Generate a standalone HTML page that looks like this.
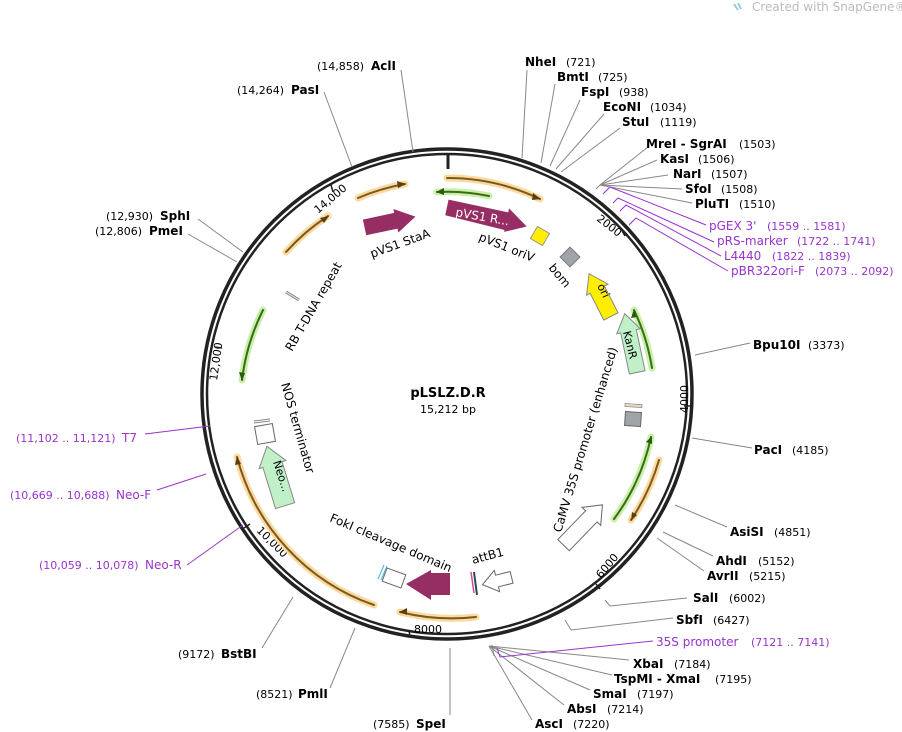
<!DOCTYPE html>
<html><head><meta charset="utf-8"><style>
html,body{margin:0;padding:0;background:#fff}
svg{display:block;font-family:"DejaVu Sans","Liberation Sans",sans-serif}
.b{font-weight:bold;font-size:12px;fill:#000}
.n{font-size:11px;fill:#000}
.p{font-size:12px;fill:#9933cc}
.pn{font-size:11px;fill:#9933cc}
.l{stroke:#888;stroke-width:1;fill:none}
.pl{stroke:#9933cc;stroke-width:1;fill:none}
.f{font-size:12px;fill:#000}
</style></head><body>
<svg width="902" height="732" viewBox="0 0 902 732" xmlns="http://www.w3.org/2000/svg">
<text x="752" y="11" font-size="12" fill="#bbb">Created with SnapGene®</text>
<path d="M734 4 l4 6 M738 3 l3 6" stroke="#9cd" stroke-width="2"/>

<!-- ring -->
<circle cx="447" cy="394" r="245" fill="none" stroke="#222" stroke-width="3.5"/>
<circle cx="447" cy="394" r="240" fill="none" stroke="#222" stroke-width="2.5"/>
<line x1="448" y1="155" x2="448" y2="169" stroke="#222" stroke-width="3"/>

<!-- tick labels -->
<g class="n" font-size="11">
<text transform="translate(318,214) rotate(-40)">14,000</text>
<text transform="translate(596,220) rotate(38)">2000</text>
<text transform="translate(688,413) rotate(-90)">4000</text>
<text transform="translate(601,579) rotate(-50)">6000</text>
<text transform="translate(414,633)">8000</text>
<text transform="translate(256,531) rotate(45)">10,000</text>
<text transform="translate(217,381) rotate(-82)">12,000</text>
</g>
<g stroke="#222" stroke-width="1.5">
<line x1="331" y1="185" x2="333" y2="192"/><line x1="621" y1="229" x2="625" y2="236"/>
<line x1="684" y1="406" x2="691" y2="406"/><line x1="596" y1="584" x2="600" y2="589"/>
<line x1="409" y1="630" x2="410" y2="637"/><line x1="250" y1="524" x2="244" y2="528"/>
<line x1="215" y1="347" x2="222" y2="348"/>
</g>

<!-- primer-like arcs -->
<g fill="none" stroke-linecap="round">
<g stroke="#fbd9a0" stroke-width="7">
<path d="M447 178 A214 214 0 0 1 540 199"/>
<path d="M358 198 A214 214 0 0 1 405 184"/>
<path d="M286 252 A214 214 0 0 1 328 216"/>
<path d="M659 460 A214 214 0 0 1 631 520"/>
<path d="M476 617 A214 214 0 0 1 400 612"/>
<path d="M374 605 A214 214 0 0 1 237 457"/>
</g>
<g stroke="#c8f0a8" stroke-width="7">
<path d="M489 196 A200 200 0 0 0 437 192"/>
<path d="M263 310 A214 214 0 0 0 242 380"/>
<path d="M652 368 A214 214 0 0 0 634 310"/>
<path d="M614 519 A214 214 0 0 0 651 437"/>
</g>
<g stroke="#7a5a1a" stroke-width="2">
<path d="M447 178 A214 214 0 0 1 540 199"/>
<path d="M358 198 A214 214 0 0 1 405 184"/>
<path d="M286 252 A214 214 0 0 1 328 216"/>
<path d="M659 460 A214 214 0 0 1 631 520"/>
<path d="M476 617 A214 214 0 0 1 400 612"/>
<path d="M374 605 A214 214 0 0 1 237 457"/>
</g>
<g stroke="#3a6a1a" stroke-width="2">
<path d="M489 196 A200 200 0 0 0 437 192"/>
<path d="M263 310 A214 214 0 0 0 242 380"/>
<path d="M652 368 A214 214 0 0 0 634 310"/>
<path d="M614 519 A214 214 0 0 0 651 437"/>
</g>
</g>
<g fill="#5a4010">
<path d="M541 199 l-8 -6 l-1 7z"/><path d="M406 184 l-9 -3 l1 7z"/><path d="M329 216 l-9 2 l4 5z"/>
<path d="M631 521 l1 -9 l5 3z"/><path d="M399 612 l8 -4 l0 7z"/><path d="M237 456 l-2 9 l6 -1z"/>
</g>
<g fill="#2a5a10">
<path d="M436 192 l8 -4 l0 7z"/><path d="M242 381 l-3 -9 l6 1z"/><path d="M634 309 l-3 9 l6 -1z"/><path d="M652 436 l-6 6 l6 2z"/>
</g>

<!-- features -->
<polygon transform="translate(390,222) rotate(-12)" points="-26,-8 6,-8 6,-12 26,0 6,12 6,8 -26,8" fill="#962d63"/>
<polygon transform="translate(487,216) rotate(12)" points="-41,-8 20,-8 20,-12 41,2 20,12 20,10 -41,8" fill="#962d63"/>
<text transform="translate(455,216) rotate(10)" font-size="12" fill="#fff">pVS1 R...</text>
<rect x="-7" y="-7" width="14" height="14" transform="translate(540,236) rotate(30)" fill="#ffee00" stroke="#999"/>
<rect x="-7" y="-7" width="14" height="14" transform="translate(570,257) rotate(45)" fill="#a0a4a8" stroke="#777"/>
<polygon transform="translate(600,295) rotate(-117)" points="-24,-8 6,-8 6,-12 24,0 6,12 6,8 -24,8" fill="#ffee00" stroke="#888"/>
<text transform="translate(597,286) rotate(63)" font-size="11">ori</text>
<polygon transform="translate(631,343) rotate(-102)" points="-30,-8 12,-8 12,-12 30,0 12,12 12,8 -30,8" fill="#bff0c8" stroke="#888"/>
<text transform="translate(623,332) rotate(76)" font-size="11">KanR</text>
<rect x="625" y="404" width="17" height="3" fill="#e8d8c0" stroke="#888" stroke-width="0.7" transform="rotate(4 633 405)"/>
<rect x="625" y="412" width="16" height="14" fill="#a0a4a8" stroke="#666" transform="rotate(4 633 419)"/>
<polygon transform="translate(583,525) rotate(-46)" points="-28,-8 12,-8 12,-13 28,0 12,13 12,8 -28,8" fill="#fff" stroke="#666"/>
<polygon transform="translate(497,581) rotate(166)" points="-15,-6 0,-6 0,-11 15,0 0,11 0,6 -15,6" fill="#fff" stroke="#666"/>
<line x1="471" y1="572" x2="474" y2="593" stroke="#d0508a" stroke-width="1.5"/>
<line x1="474" y1="572" x2="477" y2="595" stroke="#2a4a5a" stroke-width="2"/>
<polygon transform="translate(428,584) rotate(180)" points="-22,-11 -3,-11 -3,-16 22,0 -3,14 -3,11 -22,11" fill="#962d63"/>
<rect x="-10" y="-7" width="20" height="14" transform="translate(394,578) rotate(20)" fill="#fff" stroke="#666"/>
<line x1="378" y1="579" x2="384" y2="565" stroke="#4ab0d0" stroke-width="1"/>
<line x1="381" y1="580" x2="387" y2="566" stroke="#4ab0d0" stroke-width="1"/>
<polygon transform="translate(276,476) rotate(-107)" points="-31,-10 12,-10 12,-14 31,0 12,14 12,10 -31,10" fill="#bff0c8" stroke="#888"/>
<text transform="translate(273,462) rotate(72)" font-size="11">Neo...</text>
<rect x="256" y="425" width="18" height="18" fill="#fff" stroke="#666" transform="rotate(-10 265 434)"/>
<line x1="254" y1="421" x2="270" y2="419" stroke="#888"/><line x1="254" y1="423" x2="270" y2="421" stroke="#888"/>
<line x1="286" y1="292" x2="299" y2="300" stroke="#888" stroke-width="3"/>
<line x1="286" y1="292" x2="299" y2="300" stroke="#eee" stroke-width="1"/>

<!-- feature labels -->
<text class="f" transform="translate(372,258) rotate(-20)">pVS1 StaA</text>
<text class="f" transform="translate(478,240) rotate(22)">pVS1 oriV</text>
<text class="f" transform="translate(548,268) rotate(50)">bom</text>
<text class="f" transform="translate(561,533) rotate(-73)">CaMV 35S promoter (enhanced)</text>
<text class="f" transform="translate(281,384) rotate(74)">NOS terminator</text>
<text class="f" transform="translate(292,352) rotate(-60)">RB T-DNA repeat</text>
<text class="f" transform="translate(329,521) rotate(23)">FokI cleavage domain</text>
<text class="f" transform="translate(473,564) rotate(-15)">attB1</text>
<text x="448" y="397" text-anchor="middle" font-weight="bold" font-size="13">pLSLZ.D.R</text>
<text x="448" y="413" text-anchor="middle" font-size="11">15,212 bp</text>

<!-- leader lines -->
<g class="l">
<path d="M522 158 L527 70"/><path d="M541 163 L555 84"/><path d="M550 166 L580 100"/>
<path d="M556 169 L604 114"/><path d="M561 172 L620 128"/>
<path d="M596 189 L600 185 L648 147"/><path d="M600 185 L657 160"/><path d="M600 185 L668 175"/>
<path d="M600 185 L682 189"/><path d="M600 185 L692 203"/>
<path d="M695 355 L750 343"/><path d="M692 438 L752 448"/>
<path d="M675 505 L727 527"/><path d="M663 532 L713 556"/><path d="M657 538 L704 571"/>
<path d="M605 600 L610 606 L687 598"/><path d="M565 620 L571 630 L673 618"/>
<path d="M489 646 L629 660"/><path d="M489 646 L612 675"/><path d="M489 646 L590 690"/>
<path d="M489 646 L564 705"/><path d="M489 646 L532 720"/>
<path d="M492 645 L494 656"/>
<path d="M450 648 L450 715"/><path d="M355 628 L330 688"/><path d="M293 597 L262 648"/>
<path d="M243 252 L198 219"/><path d="M237 262 L188 234"/>
<path d="M352 167 L324 92"/><path d="M413 152 L401 70"/>
</g>
<g class="pl">
<path d="M603 194 L610 187 L706 225"/><path d="M613 203 L618 198 L714 242"/>
<path d="M620 211 L626 205 L721 256"/><path d="M629 225 L636 218 L728 271"/>
<path d="M497 648 L500 657 L653 641"/>
<path d="M145 434 L210 426"/><path d="M157 490 L206 474"/><path d="M187 565 L243 525"/>
</g>

<!-- labels -->
<text class="b" x="525" y="66">NheI</text><text class="n" x="566" y="66">(721)</text>
<text class="b" x="557" y="81">BmtI</text><text class="n" x="598" y="81">(725)</text>
<text class="b" x="581" y="96">FspI</text><text class="n" x="619" y="96">(938)</text>
<text class="b" x="603" y="111">EcoNI</text><text class="n" x="650" y="111">(1034)</text>
<text class="b" x="622" y="126">StuI</text><text class="n" x="660" y="126">(1119)</text>
<text class="b" x="646" y="148">MreI  - SgrAI</text><text class="n" x="739" y="148">(1503)</text>
<text class="b" x="660" y="163">KasI</text><text class="n" x="698" y="163">(1506)</text>
<text class="b" x="673" y="178">NarI</text><text class="n" x="711" y="178">(1507)</text>
<text class="b" x="685" y="193">SfoI</text><text class="n" x="721" y="193">(1508)</text>
<text class="b" x="695" y="208">PluTI</text><text class="n" x="739" y="208">(1510)</text>
<text class="p" x="709" y="230">pGEX 3'</text><text class="pn" x="767" y="230">(1559 .. 1581)</text>
<text class="p" x="717" y="245">pRS-marker</text><text class="pn" x="797" y="245">(1722 .. 1741)</text>
<text class="p" x="724" y="260">L4440</text><text class="pn" x="772" y="260">(1822 .. 1839)</text>
<text class="p" x="731" y="275">pBR322ori-F</text><text class="pn" x="815" y="275">(2073 .. 2092)</text>
<text class="b" x="753" y="349">Bpu10I</text><text class="n" x="808" y="349">(3373)</text>
<text class="b" x="754" y="454">PacI</text><text class="n" x="792" y="454">(4185)</text>
<text class="b" x="730" y="536">AsiSI</text><text class="n" x="774" y="536">(4851)</text>
<text class="b" x="716" y="565">AhdI</text><text class="n" x="758" y="565">(5152)</text>
<text class="b" x="707" y="580">AvrII</text><text class="n" x="749" y="580">(5215)</text>
<text class="b" x="693" y="602">SalI</text><text class="n" x="729" y="602">(6002)</text>
<text class="b" x="676" y="624">SbfI</text><text class="n" x="713" y="624">(6427)</text>
<text class="p" x="656" y="646">35S promoter</text><text class="pn" x="751" y="646">(7121 .. 7141)</text>
<text class="b" x="633" y="668">XbaI</text><text class="n" x="674" y="668">(7184)</text>
<text class="b" x="614" y="683">TspMI  - XmaI</text><text class="n" x="715" y="683">(7195)</text>
<text class="b" x="593" y="698">SmaI</text><text class="n" x="637" y="698">(7197)</text>
<text class="b" x="567" y="713">AbsI</text><text class="n" x="607" y="713">(7214)</text>
<text class="b" x="535" y="728">AscI</text><text class="n" x="573" y="728">(7220)</text>
<text class="b" x="416" y="728">SpeI</text><text class="n" x="373" y="728">(7585)</text>
<text class="b" x="298" y="698">PmlI</text><text class="n" x="256" y="698">(8521)</text>
<text class="b" x="221" y="658">BstBI</text><text class="n" x="178" y="658">(9172)</text>
<text class="b" x="160" y="220">SphI</text><text class="n" x="106" y="220">(12,930)</text>
<text class="b" x="149" y="235">PmeI</text><text class="n" x="95" y="235">(12,806)</text>
<text class="b" x="291" y="94">PasI</text><text class="n" x="237" y="94">(14,264)</text>
<text class="b" x="371" y="70">AclI</text><text class="n" x="317" y="70">(14,858)</text>
<text class="pn" x="16" y="442">(11,102 .. 11,121)</text><text class="p" x="122" y="442">T7</text>
<text class="pn" x="10" y="499">(10,669 .. 10,688)</text><text class="p" x="116" y="499">Neo-F</text>
<text class="pn" x="39" y="569">(10,059 .. 10,078)</text><text class="p" x="145" y="569">Neo-R</text>
</svg>
</body></html>
